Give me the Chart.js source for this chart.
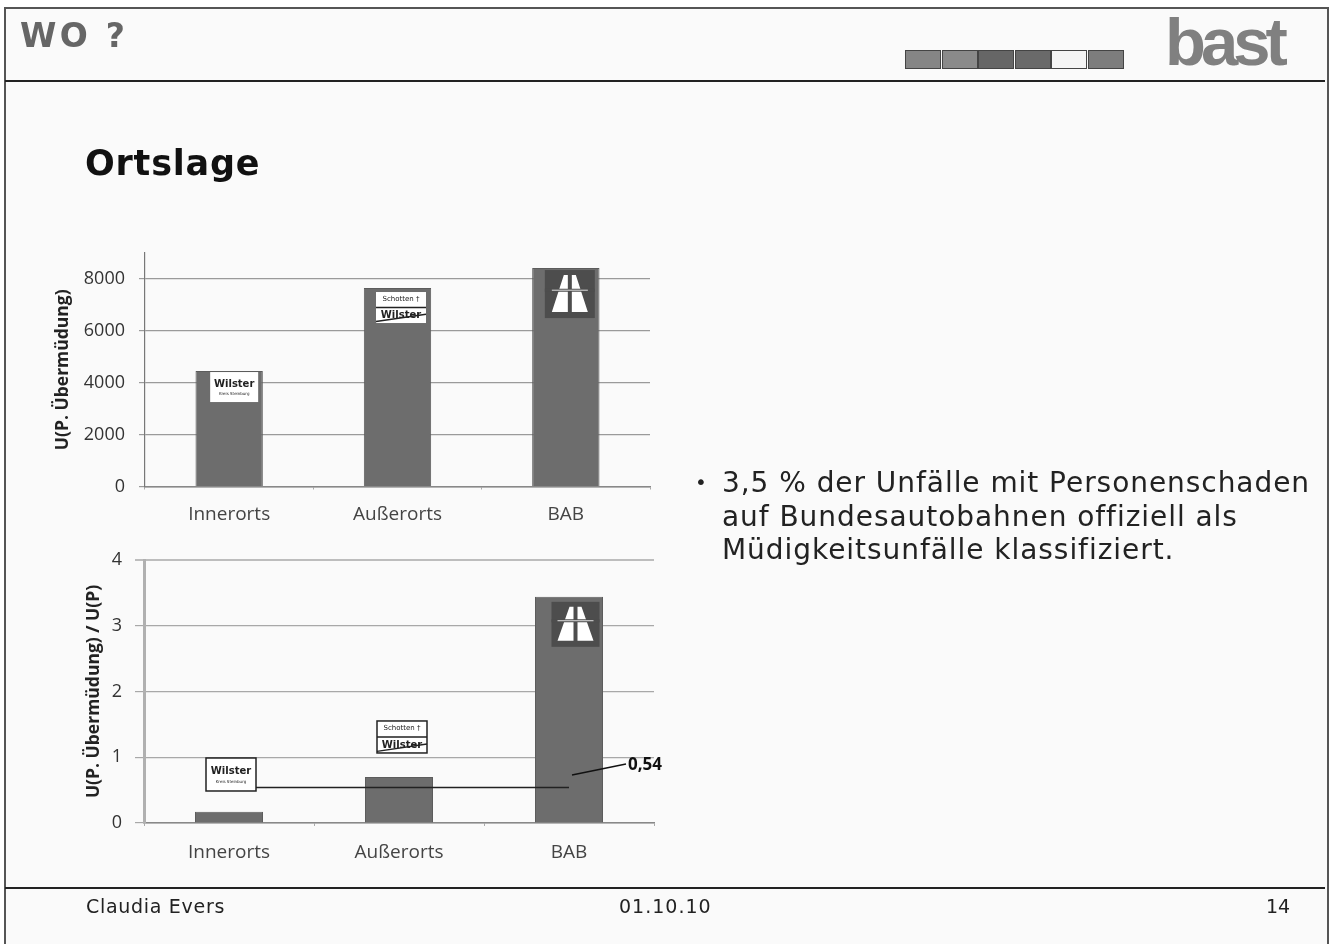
<!DOCTYPE html>
<html lang="de">
<head>
<meta charset="utf-8">
<title>Ortslage</title>
<script src="https://cdn.jsdelivr.net/npm/chart.js@4/dist/chart.umd.min.js"></script>
<style>
html, body { margin:0; padding:0; background:#fff; }
body { width:1330px; height:944px; position:relative; overflow:hidden; font-family:"DejaVu Sans",sans-serif; color:#222; }
#slide { position:absolute; left:0; top:0; width:1330px; height:944px; filter:blur(0.7px); }
#frame { position:absolute; left:4px; top:7px; width:1321px; height:937px; background:#fafafa; border:solid #555; border-width:2px 2px 0 2px; }
.rule { position:absolute; left:5px; width:1320px; height:2px; background:#222; }
.t { position:absolute; white-space:nowrap; }
canvas { position:absolute; }
#nav { position:absolute; left:905px; top:50px; height:19px; }
#nav span { position:absolute; top:0; width:34px; height:17px; border:1px solid #444; background:#808080; }
</style>
</head>
<body>
<div id="slide">
  <div id="frame"></div>
  <div class="rule" style="top:80px"></div>
  <div class="rule" style="top:887px"></div>

  <div class="t" style="left:20px;top:16px;font-size:33px;font-weight:bold;color:#666;letter-spacing:3.3px">WO ?</div>
  <div id="nav"></div>
  <div class="t" style="left:1165px;top:3px;font-size:67px;font-weight:bold;color:#808080;letter-spacing:-5px;font-family:'Liberation Sans'">bast</div>

  <div class="t" style="left:85px;top:143px;font-size:35px;font-weight:bold;color:#111;letter-spacing:0.8px">Ortslage</div>

  <div class="t" style="left:695px;top:470px;font-size:20px">•</div>
  <div class="t" style="left:722px;top:466px;font-size:28px;line-height:33.5px;letter-spacing:0.95px">3,5 % der Unfälle mit Personenschaden<br>auf Bundesautobahnen offiziell als<br>Müdigkeitsunfälle klassifiziert.</div>

  <div class="t" style="left:86px;top:895px;font-size:19px;letter-spacing:0.7px">Claudia Evers</div>
  <div class="t" style="left:619px;top:895px;font-size:19px;letter-spacing:1px">01.10.10</div>
  <div class="t" style="left:1266px;top:895px;font-size:19px">14</div>

  <canvas id="chart1" width="640" height="300" style="left:40px;top:240px;width:640px;height:300px"></canvas>
  <canvas id="chart2" width="640" height="340" style="left:40px;top:540px;width:640px;height:340px"></canvas>
</div>

<script>
var categories = ['Innerorts', 'Außerorts', 'BAB'];
var absValues = [4450, 7650, 8420];
var absTicks = [0, 2000, 4000, 6000, 8000];
var ratioValues = [0.17, 0.70, 3.44];
var ratioTicks = [0, 1, 2, 3, 4];
var meanValue = [0.54, 0.54, 0.54];
var meanLabel = '0,54';
var navColors = ['#858585', '#8a8a8a', '#666666', '#6a6a6a', '#f4f4f4', '#7d7d7d'];

// nav boxes in the header
var nav = document.getElementById('nav');
for (var i = 0; i < navColors.length; i++) {
    var s = document.createElement('span');
    s.style.left = (i * 36.5) + 'px';
    s.style.background = navColors[i];
    nav.appendChild(s);
}

function signBox(ctx, x, y, w, h, border) {
    ctx.fillStyle = '#fff';
    ctx.strokeStyle = '#222';
    ctx.lineWidth = border;
    ctx.fillRect(x, y, w, h);
    if (border) ctx.strokeRect(x, y, w, h);
}

function drawWilster(ctx, x, y, w, h, border) {
    signBox(ctx, x, y, w, h, border);
    ctx.fillStyle = '#222';
    ctx.textAlign = 'center';
    ctx.textBaseline = 'middle';
    ctx.font = 'bold 10px "DejaVu Sans"';
    ctx.fillText('Wilster', x + w / 2, y + h * 0.4);
    ctx.font = '4px "DejaVu Sans"';
    ctx.fillText('Kreis Steinburg', x + w / 2, y + h * 0.74);
}

function drawAusser(ctx, x, y, w, h, border) {
    signBox(ctx, x, y, w, h, border);
    ctx.fillStyle = '#222';
    ctx.textAlign = 'center';
    ctx.textBaseline = 'middle';
    ctx.font = '7px "DejaVu Sans"';
    ctx.fillText('Schotten †', x + w / 2, y + h * 0.22);
    ctx.font = 'bold 10px "DejaVu Sans"';
    ctx.fillText('Wilster', x + w / 2, y + h * 0.76);
    ctx.strokeStyle = '#222';
    ctx.lineWidth = 1.5;
    ctx.beginPath();
    ctx.moveTo(x, y + h * 0.5);
    ctx.lineTo(x + w, y + h * 0.5);
    ctx.moveTo(x, y + h * 0.95);
    ctx.lineTo(x + w, y + h * 0.72);
    ctx.stroke();
}

function drawAutobahn(ctx, x, y, w, h) {
    ctx.fillStyle = '#4d4d4d';
    ctx.fillRect(x, y, w, h);
    var cx = x + w / 2;
    ctx.fillStyle = '#fff';
    ctx.beginPath();
    ctx.moveTo(cx - 2, y + 5);
    ctx.lineTo(cx - 6, y + 5);
    ctx.lineTo(cx - 18, y + h - 6);
    ctx.lineTo(cx - 2, y + h - 6);
    ctx.closePath();
    ctx.moveTo(cx + 2, y + 5);
    ctx.lineTo(cx + 6, y + 5);
    ctx.lineTo(cx + 18, y + h - 6);
    ctx.lineTo(cx + 2, y + h - 6);
    ctx.closePath();
    ctx.fill();
    ctx.strokeStyle = '#4d4d4d';
    ctx.lineWidth = 3;
    ctx.beginPath();
    ctx.moveTo(x, y + h * 0.42);
    ctx.lineTo(x + w, y + h * 0.42);
    ctx.stroke();
    ctx.strokeStyle = '#ddd';
    ctx.lineWidth = 1;
    ctx.beginPath();
    ctx.moveTo(cx - 18, y + h * 0.42);
    ctx.lineTo(cx + 18, y + h * 0.42);
    ctx.stroke();
}

// signs sit on top of the bars, placed relative to the scales
var signsTop = {
    id: 'signsTop',
    afterDatasetsDraw: function(chart) {
        var ctx = chart.ctx, xs = chart.scales.x, ys = chart.scales.y;
        ctx.save();
        drawWilster(ctx, xs.getPixelForValue(0) - 19, ys.getPixelForValue(absValues[0]) + 1, 48, 30, 0);
        drawAusser(ctx, xs.getPixelForValue(1) - 21.5, ys.getPixelForValue(absValues[1]) + 4, 50, 31, 0);
        drawAutobahn(ctx, xs.getPixelForValue(2) - 21, ys.getPixelForValue(absValues[2]) + 2, 50, 48);
        ctx.restore();
    }
};

var signsBottom = {
    id: 'signsBottom',
    afterDatasetsDraw: function(chart) {
        var ctx = chart.ctx, xs = chart.scales.x, ys = chart.scales.y;
        ctx.save();
        // sign above the small bar covers the start of the mean line
        drawWilster(ctx, xs.getPixelForValue(0) - 23, ys.getPixelForValue(meanValue[0]) - 29.5, 50, 33, 1.5);
        drawAusser(ctx, xs.getPixelForValue(1) - 22, ys.getPixelForValue(ratioValues[1]) - 56, 50, 32, 1.5);
        drawAutobahn(ctx, xs.getPixelForValue(2) - 17.5, ys.getPixelForValue(ratioValues[2]) + 5, 48, 45);
        // leader to the label
        var px = xs.getPixelForValue(2), py = ys.getPixelForValue(meanValue[2]);
        ctx.strokeStyle = '#111';
        ctx.lineWidth = 1.3;
        ctx.beginPath();
        ctx.moveTo(px + 3, py - 12.5);
        ctx.lineTo(px + 57, py - 23.5);
        ctx.stroke();
        ctx.fillStyle = '#111';
        ctx.font = 'bold 17px "Open Sans"';
        ctx.textAlign = 'left';
        ctx.textBaseline = 'middle';
        ctx.fillText(meanLabel, px + 59, py - 22.5);
        ctx.restore();
    }
};

function axisOptions(o) {
    return {
        x: {
            offset: true,
            afterFit: function(axis) {
                axis.height = o.xHeight;
                axis.paddingLeft = 0;
                axis.paddingRight = 0;
            },
            grid: { display: true, drawOnChartArea: false, tickLength: 3, color: '#aaa' },
            border: { color: o.baseColor, width: 1.5 },
            ticks: { color: '#444', font: { family: 'Open Sans', size: 19 }, padding: o.xPad, maxRotation: 0 }
        },
        y: {
            min: 0,
            max: o.max,
            afterFit: function(axis) {
                axis.width = o.yWidth;
                // the tick padding would otherwise push the plot top down
                axis.paddingTop = 0;
                axis.paddingBottom = 0;
            },
            afterBuildTicks: function(axis) {
                axis.ticks = o.ticks.map(function(v) { return { value: v }; });
            },
            grid: {
                color: function(c) { return c.tick && c.tick.value == o.max ? '#bdbdbd' : o.gridColor; },
                lineWidth: function(c) { return c.tick && c.tick.value == o.max ? 2 : 1.2; },
                tickLength: o.tickLen
            },
            border: { color: o.axisColor, width: o.axisWidth },
            ticks: {
                color: '#333',
                font: { family: 'Open Sans', size: 18 },
                padding: o.yPad,
                callback: function(v) { return String(v); }
            },
            title: { display: true, text: o.title, color: '#222', font: { family: 'Open Sans', size: 17.5, weight: 'bold' }, padding: 0 }
        }
    };
}

new Chart(document.getElementById('chart1'), {
    type: 'bar',
    data: {
        labels: categories,
        datasets: [{ data: absValues, backgroundColor: '#6d6d6d', borderColor: '#5c5c5c', borderWidth: 1, categoryPercentage: 1, barPercentage: 0.4 }]
    },
    options: {
        responsive: false,
        animation: false,
        layout: { padding: { left: 12.5, right: 30, top: 13, bottom: 0 } },
        plugins: { legend: { display: false }, tooltip: { enabled: false } },
        scales: axisOptions({
            ticks: absTicks, max: 9000, title: 'U(P. Übermüdung)',
            gridColor: '#9a9a9a', axisColor: '#777', axisWidth: 1.2, baseColor: '#888',
            xHeight: 53.5, xPad: 14, yWidth: 92.5, yPad: 14, tickLen: 6
        })
    },
    plugins: [signsTop]
});

new Chart(document.getElementById('chart2'), {
    data: {
        labels: categories,
        datasets: [
            { type: 'line', data: meanValue, borderColor: '#222', borderWidth: 1.6, pointRadius: 0, order: 0 },
            { type: 'bar', data: ratioValues, backgroundColor: '#6d6d6d', borderColor: '#5c5c5c', borderWidth: 1, categoryPercentage: 1, barPercentage: 0.4, order: 1 }
        ]
    },
    options: {
        responsive: false,
        animation: false,
        layout: { padding: { left: 43.5, right: 26, top: 20, bottom: 0 } },
        plugins: { legend: { display: false }, tooltip: { enabled: false } },
        scales: axisOptions({
            ticks: ratioTicks, max: 4, title: 'U(P. Übermüdung) / U(P)',
            gridColor: '#a8a8a8', axisColor: '#b0b0b0', axisWidth: 3, baseColor: '#888',
            xHeight: 57, xPad: 15.6, yWidth: 60.5, yPad: 13, tickLen: 9
        })
    },
    plugins: [signsBottom]
});
</script>
</body>
</html>
